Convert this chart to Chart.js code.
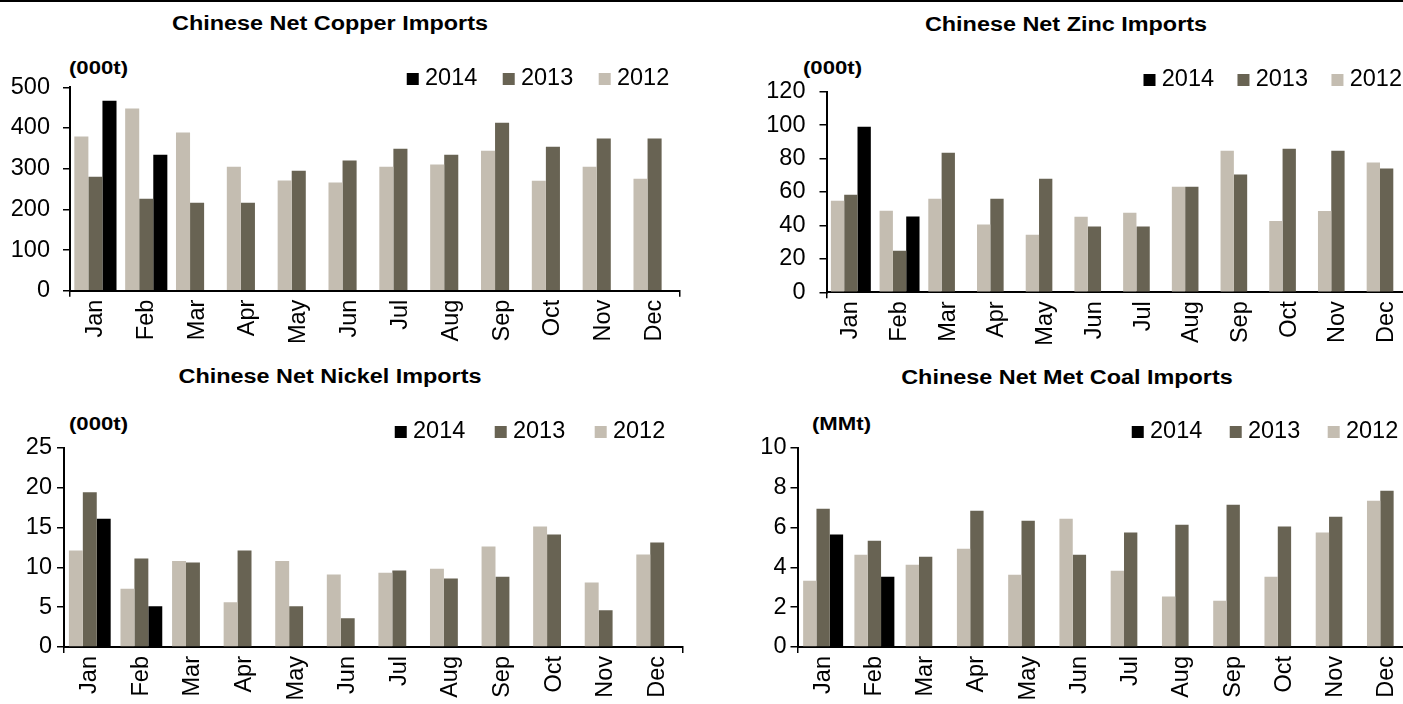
<!DOCTYPE html>
<html>
<head>
<meta charset="utf-8">
<script src="https://cdn.jsdelivr.net/npm/chart.js@4.4.1/dist/chart.umd.min.js"></script>
<style>
  html, body { margin:0; padding:0; background:#fff; width:1403px; height:704px; overflow:hidden; position:relative; }
  canvas { position:absolute; }
  .topline { position:absolute; left:0; top:0; width:1403px; height:2px; background:#000; }
  .title { position:absolute; font-family:'Liberation Sans', Arial, sans-serif; font-weight:bold; font-size:20px; line-height:20px; white-space:nowrap; color:#000; transform:translateX(-50%) scaleX(1.17); }
  .unit { position:absolute; font-family:'Liberation Sans', Arial, sans-serif; font-weight:bold; font-size:18px; line-height:18px; white-space:nowrap; color:#000; transform-origin:0 0; transform:scaleX(1.23); }
</style>
</head>
<body>
<div class="topline"></div>
<div class="title" style="left:330px; top:13px;">Chinese Net Copper Imports</div>
<div class="title" style="left:1066px; top:13.5px;">Chinese Net Zinc Imports</div>
<div class="title" style="left:330px; top:366px;">Chinese Net Nickel Imports</div>
<div class="title" style="left:1067px; top:367px;">Chinese Net Met Coal Imports</div>
<div class="unit" style="left:69px; top:59px;">(000t)</div>
<div class="unit" style="left:803px; top:59px;">(000t)</div>
<div class="unit" style="left:69px; top:415px;">(000t)</div>
<div class="unit" style="left:812px; top:415px;">(MMt)</div>

<canvas id="copper" width="700" height="352" style="left:0px; top:0px;"></canvas>
<canvas id="zinc" width="760" height="352" style="left:700px; top:0px;"></canvas>
<canvas id="nickel" width="700" height="380" style="left:0px; top:352px;"></canvas>
<canvas id="coal" width="760" height="380" style="left:700px; top:352px;"></canvas>

<script>
// ---------- DATA ----------
const months = ['Jan','Feb','Mar','Apr','May','Jun','Jul','Aug','Sep','Oct','Nov','Dec'];
const seriesNames = ['2012', '2013', '2014'];

const copper2012 = [379, 448, 389, 305, 271, 266, 305, 310, 344, 270, 305, 275];
const copper2013 = [280, 226, 216, 216, 295, 320, 349, 334, 413, 354, 374, 374];
const copper2014 = [467, 334, null, null, null, null, null, null, null, null, null, null];

const zinc2012 = [54.8, 48.8, 56.0, 40.5, 34.5, 45.2, 47.6, 63.2, 84.7, 42.6, 48.6, 77.6];
const zinc2013 = [58.4, 24.9, 83.5, 56.0, 68.0, 39.3, 39.3, 63.2, 70.4, 85.9, 84.7, 74.0];
const zinc2014 = [99.1, 45.4, null, null, null, null, null, null, null, null, null, null];

const nickel2012 = [12.1, 7.3, 10.8, 5.6, 10.8, 9.1, 9.3, 9.8, 12.6, 15.1, 8.1, 11.6];
const nickel2013 = [19.4, 11.1, 10.6, 12.1, 5.1, 3.6, 9.6, 8.6, 8.8, 14.1, 4.6, 13.1];
const nickel2014 = [16.1, 5.1, null, null, null, null, null, null, null, null, null, null];

const coal2012 = [3.33, 4.63, 4.13, 4.93, 3.63, 6.44, 3.83, 2.53, 2.32, 3.53, 5.74, 7.34];
const coal2013 = [6.94, 5.33, 4.53, 6.84, 6.34, 4.63, 5.74, 6.14, 7.14, 6.04, 6.54, 7.84];
const coal2014 = [5.64, 3.53, null, null, null, null, null, null, null, null, null, null];

const copperTicks = { max: 500, step: 100 };
const zincTicks   = { max: 120, step: 20 };
const nickelTicks = { max: 25,  step: 5 };
const coalTicks   = { max: 10,  step: 2 };

// ---------- STYLE ----------
const FONT = "'Liberation Sans', Arial, sans-serif";
const TICK_SIZE = 23.5;
const LEGEND_SIZE = 23.5;
const colors = { '2012': '#c4bdb1', '2013': '#686353', '2014': '#000000' };

Chart.defaults.font.family = FONT;
Chart.defaults.color = '#000';

const legendPlace = {
  id: 'legendPlace',
  afterLayout(chart, args, opts) {
    const lg = chart.legend;
    if (!lg || opts.x === undefined) return;
    const pad = chart.options.plugins.legend.labels.padding;
    const fs = chart.options.plugins.legend.labels.font.size;
    const h = lg.bottom - lg.top;
    lg.left = opts.x - pad;
    lg.right = lg.left + 2000;
    lg.width = 2000;
    lg.top = opts.y - pad - fs / 2;
    lg.bottom = lg.top + h;
  }
};

function build(id, canvasPos, area, legend, d12, d13, d14, ticks, yPad, catPct) {
  const padding = { left: 0, right: 0, top: 0, bottom: 0 };
  const data = [d12, d13, d14];
  const chart = new Chart(document.getElementById(id), {
    type: 'bar',
    data: {
      labels: months,
      datasets: seriesNames.map((name, i) => ({
        label: name,
        data: data[i],
        backgroundColor: colors[name],
        borderWidth: 0,
        barPercentage: 1.0,
        categoryPercentage: catPct
      }))
    },
    options: {
      responsive: false,
      animation: false,
      devicePixelRatio: 1,
      layout: { padding },
      plugins: {
        title: { display: false },
        tooltip: { enabled: false },
        legend: {
          display: true,
          position: 'top',
          align: 'start',
          labels: {
            boxWidth: 1, boxHeight: 1, padding: legend.pad, color: '#000',
            font: { size: LEGEND_SIZE, family: FONT },
            sort: (a, b) => b.datasetIndex - a.datasetIndex,
            generateLabels: (c) => Chart.defaults.plugins.legend.labels.generateLabels(c)
              .map(l => Object.assign(l, { lineWidth: 11, strokeStyle: l.fillStyle, lineJoin: 'miter' }))
          }
        },
        legendPlace: { x: legend.x - canvasPos.x, y: legend.y - canvasPos.y }
      },
      scales: {
        x: {
          offset: true,
          grid: {
            offset: true,
            drawOnChartArea: false,
            drawTicks: true,
            tickLength: 6,
            lineWidth: 1.5,
            color: c => (c.type !== 'tick' || c.index === 0) ? '#000' : 'rgba(0,0,0,0)'
          },
          border: { display: true, color: '#000', width: 2 },
          ticks: { minRotation: 90, maxRotation: 90, autoSkip: false, padding: 3, color: '#000', font: { size: TICK_SIZE, family: FONT } }
        },
        y: {
          min: 0, max: ticks.max,
          grid: { drawOnChartArea: false, drawTicks: true, tickLength: 7, lineWidth: 1.5, color: '#000' },
          border: { display: true, color: '#000', width: 2 },
          ticks: { stepSize: ticks.step, padding: yPad, color: '#000', font: { size: TICK_SIZE, family: FONT } }
        }
      }
    },
    plugins: [legendPlace]
  });
  // fit the plot area onto the target rectangle
  const t = { l: area.l - canvasPos.x, r: area.r - canvasPos.x, t: area.t - canvasPos.y, b: area.b - canvasPos.y };
  for (let k = 0; k < 3; k++) {
    const a = chart.chartArea;
    const p = chart.config.options.layout.padding;
    p.left += t.l - a.left;
    p.right += a.right - t.r;
    p.top += t.t - a.top;
    p.bottom += a.bottom - t.b;
    chart.update('none');
  }
  return chart;
}

build('copper', { x: 0, y: 0 },   { l: 70, r: 680, t: 87.3, b: 290.7 },
      { x: 412.25, y: 79, pad: 30.95 }, copper2012, copper2013, copper2014, copperTicks, 13, 0.83);
build('zinc',   { x: 700, y: 0 }, { l: 826.5, r: 1411, t: 91.7, b: 292.3 },
      { x: 1149, y: 80, pad: 28.95 }, zinc2012, zinc2013, zinc2014, zincTicks, 14, 0.82);
build('nickel', { x: 0, y: 352 }, { l: 64, r: 683, t: 447.7, b: 647 },
      { x: 400.25, y: 432, pad: 34.95 }, nickel2012, nickel2013, nickel2014, nickelTicks, 5, 0.81);
build('coal',   { x: 700, y: 352 }, { l: 797.5, r: 1412.6, t: 447.7, b: 647 },
      { x: 1137.25, y: 432, pad: 32.95 }, coal2012, coal2013, coal2014, coalTicks, 4, 0.78);
</script>
</body>
</html>
